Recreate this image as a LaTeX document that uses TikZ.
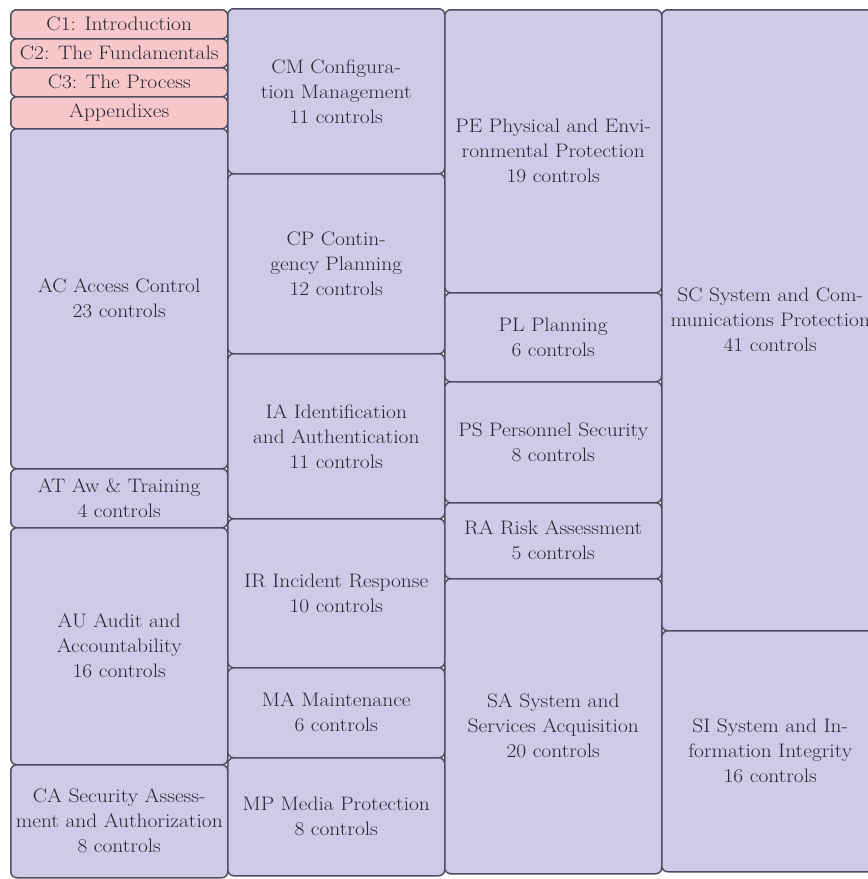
\documentclass[tikz,border=0pt]{standalone}
\usepackage{fontspec}
\setmainfont{Latin Modern Roman}[FakeStretch=1.1]
\definecolor{lav}{RGB}{205,203,231}
\definecolor{pinkc}{RGB}{247,199,202}
\definecolor{edge}{RGB}{78,78,96}
\definecolor{txt}{RGB}{40,40,48}
\tikzset{
  box/.style={draw=edge, line width=1.5pt, rounded corners=6pt, fill=lav,
    anchor=north west, inner sep=0pt, align=center,
    font={\fontsize{19.5}{25}\selectfont}, text=txt},
  chap/.style={box, fill=pinkc}
}
\begin{document}
\begin{tikzpicture}[x=1pt,y=-1pt]
\useasboundingbox[fill=white] (0,0) rectangle (868,879);
% column 1
\node[chap, minimum width=217pt, minimum height=29pt] (c1) at (10,9) {C1: Introduction};
\node[chap, minimum width=217pt, minimum height=29pt] (c2) at (10,38) {C2: The Fundamentals};
\node[chap, minimum width=217pt, minimum height=29pt] (c3) at (10,67) {C3: The Process};
\node[chap, minimum width=217pt, minimum height=32pt] (app) at (10,96) {Appendixes};
\node[box, minimum width=217pt, minimum height=340pt] (ac) at (10,128) {AC Access Control\\23 controls};
\node[box, minimum width=217pt, minimum height=59pt] (at) at (10,468) {AT Aw \& Training\\4 controls};
\node[box, minimum width=217pt, minimum height=237pt] (au) at (10,527) {AU Audit and\\Accountability\\16 controls};
\node[box, minimum width=217pt, minimum height=113pt] (ca) at (10,764) {CA Security Assess-\\ment and Authorization\\8 controls};
% column 2
\node[box, minimum width=217pt, minimum height=165pt] (cm) at (227,8) {CM Configura-\\tion Management\\11 controls};
\node[box, minimum width=217pt, minimum height=180pt] (cp) at (227,173) {CP Contin-\\gency Planning\\12 controls};
\node[box, minimum width=217pt, minimum height=165pt] (ia) at (227,353) {IA Identification\\and Authentication\\11 controls};
\node[box, minimum width=217pt, minimum height=149pt] (ir) at (227,518) {IR Incident Response\\10 controls};
\node[box, minimum width=217pt, minimum height=90pt] (ma) at (227,667) {MA Maintenance\\6 controls};
\node[box, minimum width=217pt, minimum height=118pt] (mp) at (227,757) {MP Media Protection\\8 controls};
% column 3
\node[box, minimum width=217pt, minimum height=283pt] (pe) at (444,9) {PE Physical and Envi-\\ronmental Protection\\19 controls};
\node[box, minimum width=217pt, minimum height=89pt] (pl) at (444,292) {PL Planning\\6 controls};
\node[box, minimum width=217pt, minimum height=121pt] (ps) at (444,381) {PS Personnel Security\\8 controls};
\node[box, minimum width=217pt, minimum height=76pt] (ra) at (444,502) {RA Risk Assessment\\5 controls};
\node[box, minimum width=217pt, minimum height=295pt] (sa) at (444,578) {SA System and\\Services Acquisition\\20 controls};
% column 4
\node[box, minimum width=217pt, minimum height=621pt] (sc) at (661,9) {SC System and Com-\\munications Protection\\41 controls};
\node[box, minimum width=217pt, minimum height=241pt] (si) at (661,630) {SI System and In-\\formation Integrity\\16 controls};
\end{tikzpicture}
\end{document}
